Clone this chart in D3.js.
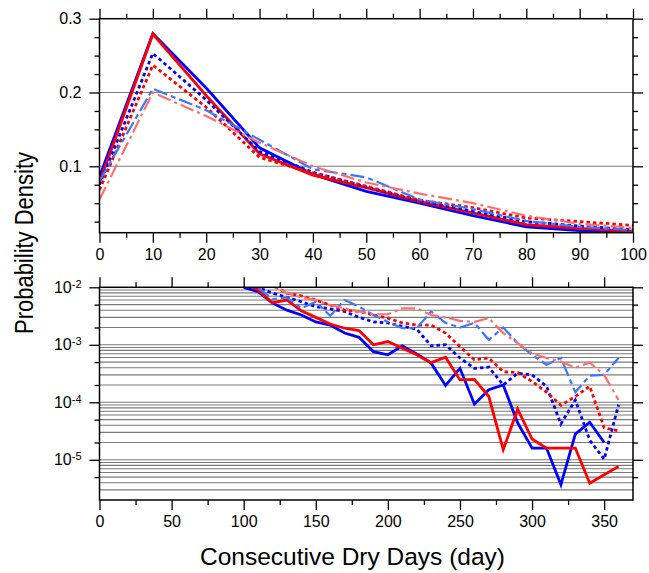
<!DOCTYPE html>
<html>
<head>
<meta charset="utf-8">
<script src="https://cdn.jsdelivr.net/npm/d3@7"></script>
<style>
  body { margin: 0; background: #fff; }
  svg { font-family: "Liberation Sans", Arial, sans-serif; }
</style>
</head>
<body>
<svg width="649" height="573"></svg>
<script>
// top panel: days 0..100
const topDays = [0, 10, 20, 30, 40, 50, 60, 70, 80, 90, 100];
const topBlue     = [0.086, 0.280, 0.206, 0.125, 0.089, 0.066, 0.050, 0.033, 0.018, 0.013, 0.010];
const topRed      = [0.078, 0.279, 0.196, 0.117, 0.088, 0.071, 0.052, 0.037, 0.021, 0.016, 0.012];
const topBlueDot  = [0.075, 0.253, 0.190, 0.120, 0.092, 0.072, 0.053, 0.039, 0.025, 0.019, 0.014];
const topRedDot   = [0.068, 0.237, 0.180, 0.112, 0.091, 0.073, 0.054, 0.044, 0.030, 0.025, 0.020];
const topLtBlue   = [0.080, 0.205, 0.176, 0.136, 0.096, 0.085, 0.055, 0.042, 0.026, 0.018, 0.0135];
const topLtRed    = [0.055, 0.200, 0.168, 0.132, 0.100, 0.078, 0.063, 0.050, 0.033, 0.022, 0.0165];

// bottom panel: days 100..360 (log scale)
const botDays = [100, 110, 120, 130, 140, 150, 160, 170, 180, 190, 200, 210, 220, 230,
                 240, 250, 260, 270, 280, 290, 300, 310, 320, 330, 340, 350, 360];
const botBlue    = [1.0e-2, 8.4e-3, 5.3e-3, 4.0e-3, 3.3e-3, 2.5e-3, 2.2e-3, 1.6e-3, 1.35e-3, 7.6e-4, 6.7e-4, 9.6e-4, 6.9e-4, 4.8e-4,
                    1.96e-4, 3.9e-4, 9.3e-5, 1.66e-4, 2.0e-4, 4.4e-5, 1.6e-5, 1.6e-5, 3.7e-6, 2.8e-5, 4.5e-5, 2.0e-5, null];
const botRed     = [1.2e-2, 9.0e-3, 5.4e-3, 6.0e-3, 3.9e-3, 3.0e-3, 2.3e-3, 1.94e-3, 1.77e-3, 1.0e-3, 1.14e-3, 8.7e-4, 6.7e-4, 4.9e-4,
                    6.1e-4, 2.45e-4, 2.5e-4, 1.26e-4, 1.5e-5, 7.6e-5, 2.3e-5, 1.6e-5, 1.6e-5, 1.6e-5, 3.9e-6, 5.5e-6, 7.7e-6];
const botBlueDot = [1.3e-2, 1.0e-2, 7.9e-3, 6.7e-3, 5.6e-3, 4.6e-3, 4.2e-3, 3.8e-3, 3.0e-3, 2.5e-3, 2.4e-3, 2.1e-3, 1.87e-3, 9.6e-4,
                    1.0e-3, 5.9e-4, 3.9e-4, 4.1e-4, 2.0e-4, 3.2e-4, 3.0e-4, 1.9e-4, 4.2e-5, 1.1e-4, 2.2e-5, 1.02e-5, 9.1e-5];
const botRedDot  = [null, 1.5e-2, 1.1e-2, 7.9e-3, 7.1e-3, 6.0e-3, 4.9e-3, 4.0e-3, 3.8e-3, 3.3e-3, 2.9e-3, 2.4e-3, 2.2e-3, 2.2e-3,
                    1.6e-3, 9.3e-4, 5.5e-4, 5.9e-4, 3.4e-4, 3.3e-4, 2.3e-4, 1.5e-4, 8.9e-5, 1.26e-4, 1.9e-4, 3.6e-5, 3.2e-5];
const botLtBlue  = [null, 1.0e-2, 6.2e-3, 6.7e-3, 4.3e-3, 5.6e-3, 3.2e-3, 6.0e-3, 4.6e-3, 3.3e-3, 2.5e-3, 1.94e-3, 1.94e-3, 3.8e-3,
                    2.4e-3, 2.0e-3, 2.4e-3, 1.22e-3, 2.0e-3, 1.07e-3, 6.7e-4, 4.5e-4, 5.9e-4, 1.5e-4, 2.9e-4, 3.0e-4, 5.9e-4];
const botLtRed   = [null, 1.4e-2, 1.05e-2, 8.0e-3, 6.7e-3, 6.0e-3, 4.9e-3, 4.3e-3, 3.8e-3, 3.4e-3, 3.4e-3, 4.3e-3, 4.3e-3, 3.3e-3,
                    3.0e-3, 2.6e-3, 2.5e-3, 2.9e-3, 1.6e-3, 1.07e-3, 7.1e-4, 5.9e-4, 5.1e-4, 4.0e-4, 4.9e-4, 3.0e-4, 1.1e-4];

const topTicks = [0.1, 0.2, 0.3];
const botTicks = [1e-2, 1e-3, 1e-4, 1e-5];
const supLabels = ["-2", "-3", "-4", "-5"];

const styles = [
  { color: "#0000ff", dash: null,            w: 2.8 },
  { color: "#ff0000", dash: null,            w: 2.8 },
  { color: "#0000ff", dash: "3.5,3",         w: 2.8 },
  { color: "#ff0000", dash: "3.5,3",         w: 2.8 },
  { color: "#3a78ff", dash: "14,4,5,4",      w: 2.2 },
  { color: "#ff6f6f", dash: "14,4,3,4",      w: 2.2 }
];

const svg = d3.select("svg");
const left = 99.5, right = 633;

function drawPanel(opts) {
  const g = svg.append("g");
  const id = opts.id;
  g.append("clipPath").attr("id", id).append("rect")
    .attr("x", left).attr("y", opts.y.range()[1])
    .attr("width", right - left).attr("height", opts.y.range()[0] - opts.y.range()[1]);

  // grid lines
  g.append("g").selectAll("line").data(opts.grid).join("line")
    .attr("x1", left).attr("x2", right)
    .attr("y1", d => opts.y(d)).attr("y2", d => opts.y(d))
    .attr("stroke", "#7a7a7a").attr("stroke-width", 1.1);

  // data lines
  const line = d3.line()
    .defined(d => d[1] != null)
    .x(d => opts.x(d[0])).y(d => opts.y(d[1]));
  const lg = g.append("g").attr("clip-path", `url(#${id})`);
  opts.series.forEach((s, i) => {
    const st = styles[i];
    lg.append("path")
      .datum(opts.days.map((d, j) => [d, s[j]]))
      .attr("d", line)
      .attr("fill", "none")
      .attr("stroke", st.color)
      .attr("stroke-width", st.w)
      .attr("stroke-dasharray", st.dash)
      .attr("stroke-linejoin", "miter");
  });

  const y0 = opts.y.range()[0], y1 = opts.y.range()[1];
  // minor ticks
  const minor = (axis, tv, tr) => g.append("g").attr("transform", tr)
    .call(axis.tickValues(tv).tickSize(5).tickSizeOuter(0).tickFormat(""));
  minor(d3.axisBottom(opts.x), opts.xMinor, `translate(0,${y0})`);
  minor(d3.axisTop(opts.x), opts.xMinor, `translate(0,${y1})`);
  minor(d3.axisLeft(opts.y), opts.yMinor, `translate(${left},0)`);
  minor(d3.axisRight(opts.y), opts.yMinor, `translate(${right},0)`);

  // major ticks
  const xb = g.append("g").attr("transform", `translate(0,${y0})`)
    .call(d3.axisBottom(opts.x).tickValues(opts.xMajor).tickSize(10).tickSizeOuter(0).tickPadding(6));
  g.append("g").attr("transform", `translate(0,${y1})`)
    .call(d3.axisTop(opts.x).tickValues(opts.xMajor).tickSize(10).tickSizeOuter(0).tickFormat(""));
  const yl = g.append("g").attr("transform", `translate(${left},0)`)
    .call(d3.axisLeft(opts.y).tickValues(opts.yMajor).tickSize(10).tickSizeOuter(0).tickPadding(8).tickFormat(opts.yFormat));
  g.append("g").attr("transform", `translate(${right},0)`)
    .call(d3.axisRight(opts.y).tickValues(opts.yMajor).tickSize(10).tickSizeOuter(0).tickFormat(""));

  g.selectAll(".domain").remove();
  g.selectAll(".tick line").attr("stroke", "#000").attr("stroke-width", 1.3);
  xb.selectAll("text").attr("font-size", 16).attr("fill", "#000");
  yl.selectAll("text").attr("font-size", 16).attr("fill", "#000");
  if (opts.sup) {
    yl.selectAll("text").each(function(d, i) {
      const t = d3.select(this).text("");
      t.append("tspan").text("10");
      t.append("tspan").attr("dy", "-0.45em").attr("font-size", 11).text(supLabels[i]);
    });
  }

  g.append("rect")
    .attr("x", left).attr("y", y1).attr("width", right - left).attr("height", y0 - y1)
    .attr("fill", "none").attr("stroke", "#000").attr("stroke-width", 1.5);
}

// top panel
const xTop = d3.scaleLinear().domain([0, 100]).range([left, right]);
const yTop = d3.scaleLinear().domain([0.01, 0.3]).range([232.7, 18.7]);
drawPanel({
  id: "clipTop", x: xTop, y: yTop, days: topDays,
  series: [topBlue, topRed, topBlueDot, topRedDot, topLtBlue, topLtRed],
  grid: [0.1, 0.2],
  xMajor: d3.range(0, 101, 10), xMinor: d3.range(5, 100, 10),
  yMajor: topTicks, yMinor: [0.025, 0.05, 0.075, 0.125, 0.15, 0.175, 0.225, 0.25, 0.275],
  yFormat: d3.format(".1f")
});

// bottom panel
const xBot = d3.scaleLinear().domain([0, 370]).range([left, right]);
const yBot = d3.scaleLog().domain([2e-6, 1e-2]).range([500, 287.3]);
const logGrid = [];
[1e-6, 1e-5, 1e-4, 1e-3].forEach(dec => {
  for (let k = 1; k < 10; k++) {
    const v = dec * k;
    if (v > 2e-6 && v < 1e-2) logGrid.push(v);
  }
});
drawPanel({
  id: "clipBot", x: xBot, y: yBot, days: botDays,
  series: [botBlue, botRed, botBlueDot, botRedDot, botLtBlue, botLtRed],
  grid: logGrid,
  xMajor: d3.range(0, 351, 50), xMinor: d3.range(25, 370, 50),
  yMajor: botTicks, yMinor: [5e-3, 2e-3, 5e-4, 2e-4, 5e-5, 2e-5, 5e-6],
  yFormat: d => d, sup: true
});

svg.append("text")
  .attr("transform", "translate(33,243) rotate(-90) scale(0.88,1)")
  .attr("text-anchor", "middle")
  .attr("font-size", 25)
  .text("Probability Density");

svg.append("text")
  .attr("x", 352.5).attr("y", 565)
  .attr("text-anchor", "middle")
  .attr("font-size", 24.5)
  .text("Consecutive Dry Days (day)");
</script>
</body>
</html>
